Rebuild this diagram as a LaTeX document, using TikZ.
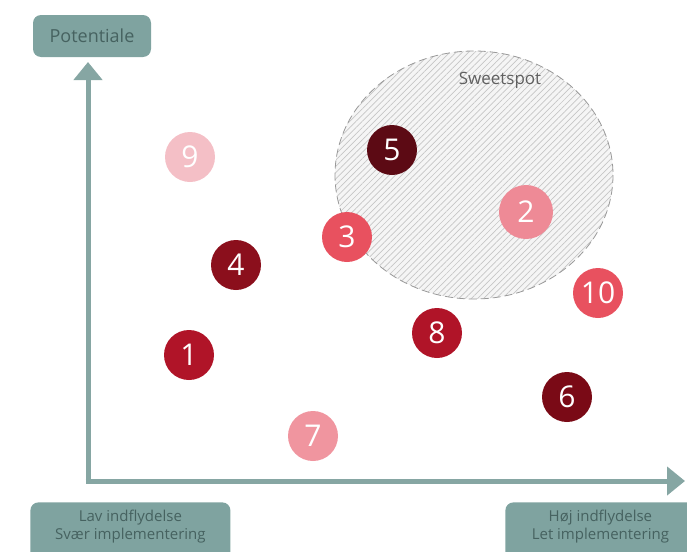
\documentclass[tikz,border=0pt]{standalone}
\usepackage{fontspec}
\setmainfont{Open Sans}
\usetikzlibrary{arrows.meta,patterns.meta}
\definecolor{axisgreen}{RGB}{134,166,163}
\definecolor{boxgreen}{RGB}{127,163,160}
\definecolor{boxtext}{RGB}{70,98,96}
\definecolor{darkmaroon}{RGB}{92,10,20}
\definecolor{maroon}{RGB}{122,10,22}
\definecolor{darkred}{RGB}{139,15,28}
\definecolor{midred}{RGB}{176,20,40}
\definecolor{coral}{RGB}{232,81,95}
\definecolor{rosepink}{RGB}{238,138,150}
\definecolor{softpink}{RGB}{240,149,159}
\definecolor{palepink}{RGB}{244,191,198}
\tikzset{
  labelbox/.style={fill=boxgreen,rounded corners=4pt,text=boxtext,align=center,font=\fontsize{7.5}{9}\selectfont},
  axis/.style={axisgreen,line width=2.5pt,-{Triangle[width=14pt,length=9pt]}},
  idea/.style={circle,minimum size=25pt,inner sep=0pt,text=white,font=\fontsize{15}{15}\selectfont}
}

\begin{document}
\begin{tikzpicture}[x=0.5pt,y=-0.5pt]
    \useasboundingbox (0,0) rectangle (687,552);
    \clip (0,0) rectangle (687,552);

    % sweetspot
    \fill[gray!8] (474,175) ellipse [x radius=139,y radius=124];
    \fill[pattern={Lines[angle=45,distance=2.2pt,line width=0.35pt]},pattern color=gray!45]
      (474,175) ellipse [x radius=139,y radius=124];
    \draw[gray!80,thin,dash pattern=on 4pt off 2pt] (474,175) ellipse [x radius=139,y radius=124];
    \node[text=gray!75!black,font=\fontsize{8.5}{10}\selectfont] (sweet) at (500,80) {Sweetspot};

    % axes
    \coordinate (origo) at (88,481);
    \coordinate (ytop) at (88,62);
    \coordinate (xend) at (685,481);
    \draw[axis] ([xshift=-1.25pt]origo) -- (xend);
    \draw[axis] ([yshift=-1.25pt]origo) -- (ytop);

    \node[labelbox,minimum width=59pt,minimum height=21pt,font=\fontsize{9}{10}\selectfont] (pot) at (92,36) {Potentiale};
    \node[labelbox,minimum width=100pt,minimum height=34pt,anchor=north west] (low) at (30,502)
      {Lav indflydelse\\Svær implementering\\[3pt]};
    \node[labelbox,minimum width=95pt,minimum height=34pt,anchor=north west] (high) at (505,502)
      {Høj indflydelse\\Let implementering\\[3pt]};

    % ideas
    \node[idea,fill=midred] (i1) at (189,355) {1};
    \node[idea,fill=rosepink,minimum size=27pt] (i2) at (526,212) {2};
    \node[idea,fill=coral] (i3) at (347,237) {3};
    \node[idea,fill=darkred] (i4) at (236,265) {4};
    \node[idea,fill=darkmaroon] (i5) at (392,150) {5};
    \node[idea,fill=maroon] (i6) at (567,397) {6};
    \node[idea,fill=softpink] (i7) at (313,436) {7};
    \node[idea,fill=midred] (i8) at (437,333) {8};
    \node[idea,fill=palepink] (i9) at (190,157) {9};
    \node[idea,fill=coral] (i10) at (598,293) {10};
  \end{tikzpicture}
\end{document}
